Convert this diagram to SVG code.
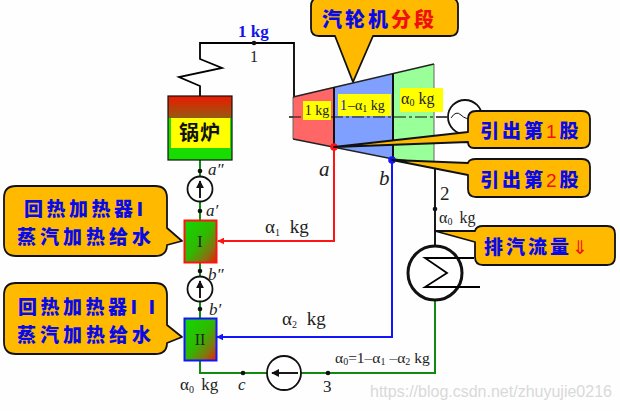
<svg xmlns="http://www.w3.org/2000/svg" width="620" height="411" viewBox="0 0 620 411">
<style>
.pipe{fill:none;stroke:#000;stroke-width:1.8}
.green{fill:none;stroke:#108a10;stroke-width:2}
.red{fill:none;stroke:#ff1414;stroke-width:2}
.blue{fill:none;stroke:#1414ff;stroke-width:2}
.call{fill:#ffba00;stroke:#111;stroke-width:1.8;stroke-linejoin:round}
.cjk{font-family:"Noto Sans CJK SC",sans-serif;font-weight:900;font-size:19px;fill:#0a0ae6}
.r{fill:#f01010}
.t{font-family:"Liberation Serif",serif;font-size:19px;fill:#222}
.i{font-style:italic}
.y{font-family:"Liberation Serif",serif;font-size:14px;fill:#222}
.s{font-size:10px}
.dot{fill:#111}
.pump{fill:#fff;stroke:#111;stroke-width:1.8}
</style>
<defs>
<linearGradient id="boil" x1="0" y1="0" x2="0" y2="1"><stop offset="0" stop-color="#ec1a00"/><stop offset="0.34" stop-color="#965a10"/><stop offset="0.35" stop-color="#22dd00"/><stop offset="1" stop-color="#16dc00"/></linearGradient>
<linearGradient id="heat" x1="0" y1="0" x2="1" y2="1"><stop offset="0" stop-color="#10d800"/><stop offset="0.5" stop-color="#30b800"/><stop offset="0.78" stop-color="#8a7010"/><stop offset="1" stop-color="#ee1a00"/></linearGradient>
<marker id="ar" viewBox="0 0 10 10" refX="9" refY="5" markerWidth="7" markerHeight="7" markerUnits="userSpaceOnUse" orient="auto"><path d="M0 0L10 5L0 10Z" fill="#ff1414"/></marker>
<marker id="ab" viewBox="0 0 10 10" refX="9" refY="5" markerWidth="7" markerHeight="7" markerUnits="userSpaceOnUse" orient="auto"><path d="M0 0L10 5L0 10Z" fill="#1414ff"/></marker>
<marker id="ak" viewBox="0 0 10 10" refX="9" refY="5" markerWidth="8" markerHeight="8" markerUnits="userSpaceOnUse" orient="auto"><path d="M0 0L10 5L0 10Z" fill="#111"/></marker>
</defs>
<rect width="620" height="411" fill="#fefefe"/>
<text x="370" y="397" font-family="Liberation Sans,sans-serif" font-size="16" fill="#d9d9d9">https://blog.csdn.net/zhuyujie0216</text>

<g id="connectors">
<path class="pipe" d="M200 96V86L179 77L222 68L200 59V43H294V97"/>
<path class="green" d="M200 160V220M200 263V318M200 361V373H284M301 373H435V300"/>
<path class="pipe" d="M435 164V246"/>
<path class="red" d="M334 147V241H218" marker-end="url(#ar)"/>
<path class="blue" d="M392 160V337H217" marker-end="url(#ab)"/>
<path d="M289 117H447" fill="none" stroke="#111" stroke-width="1" stroke-dasharray="12 3 3 3"/>
</g>

<g id="turbine">
<path d="M293 97L334 87V147L293 139Z" fill="#ff6666"/>
<path d="M334 87L393 74V159L334 147Z" fill="#80a0ff"/>
<path d="M393 74L434 64V164L393 159Z" fill="#99ff99"/>
<path d="M293 97V139M434 64V164" fill="none" stroke="#666" stroke-width="1"/>
<path d="M293 97L434 64M293 139L393 159L434 164M334 87V147M393 74V159" fill="none" stroke="#222" stroke-width="1.300"/>
<path d="M334 87V147M393 74V159" fill="none" stroke="#111" stroke-width="2"/>
<path d="M289 117H447" fill="none" stroke="#111" stroke-width="1" stroke-dasharray="12 3 3 3"/>
<rect x="303" y="101" width="28" height="19" fill="#ff0"/>
<text class="y" x="317" y="115" text-anchor="middle">1 kg</text>
<rect x="338" y="94" width="53" height="22" fill="#ff0"/>
<text class="y" x="340" y="110"><tspan fill="#1414cc">1</tspan><tspan dx="1">–</tspan>α<tspan class="s" dy="2">1</tspan><tspan dy="-2"> kg</tspan></text>
<rect x="400" y="88" width="43" height="24" fill="#ff0"/>
<text class="y" x="401" y="104" style="font-size:16px">α<tspan class="s" dy="2">0</tspan><tspan dy="-2"> kg</tspan></text>
</g>

<g id="generator"><circle cx="465" cy="117" r="17" fill="#fff" stroke="#111" stroke-width="1.800"/><path d="M451 118Q456 110 461 115T472 118" fill="none" stroke="#111"/></g>

<g id="boiler">
<rect x="168" y="96" width="64" height="64" fill="url(#boil)" stroke="#111" stroke-width="1.200"/>
<rect x="171" y="118" width="59" height="30" fill="#ff0"/>
<text x="200" y="140" text-anchor="middle" font-family="Noto Sans CJK SC,sans-serif" font-size="20" font-weight="700" letter-spacing="1" fill="#111">锅炉</text>
</g>

<g id="heater1"><rect x="184.500" y="220.500" width="32" height="42" fill="url(#heat)" stroke="#ff1414" stroke-width="2"/><text class="t" x="200" y="247" text-anchor="middle" style="font-size:16px">I</text></g>
<g id="heater2"><rect x="184.500" y="318.500" width="32" height="42" fill="url(#heat)" stroke="#1414ff" stroke-width="2"/><text class="t" x="200" y="345" text-anchor="middle" style="font-size:16px">II</text></g>

<g id="pump1"><circle class="pump" cx="200" cy="189" r="12.500"/><path class="pipe" d="M200 198V181" marker-end="url(#ak)"/></g>
<g id="pump2"><circle class="pump" cx="200" cy="289" r="12.500"/><path class="pipe" d="M200 298V281" marker-end="url(#ak)"/></g>
<g id="pump3"><circle class="pump" cx="284" cy="373" r="17"/><path class="pipe" d="M298 373H272" marker-end="url(#ak)"/></g>

<g id="condenser"><circle cx="435" cy="273" r="27" fill="#fff" stroke="#111" stroke-width="3"/><path class="pipe" d="M474 258H425L447 273L425 287H480"/></g>

<g id="points">
<circle class="dot" cx="254" cy="43" r="2.300"/><circle class="dot" cx="200" cy="171" r="2.300"/><circle class="dot" cx="200" cy="211" r="2.300"/><circle class="dot" cx="200" cy="271" r="2.300"/><circle class="dot" cx="200" cy="309" r="2.300"/><circle class="dot" cx="243" cy="373" r="2.300"/><circle class="dot" cx="328" cy="373" r="2.300"/><circle class="dot" cx="435" cy="209" r="2.300"/>
<circle cx="334" cy="147" r="3.800" fill="#ff1414"/><circle cx="392" cy="160" r="3.800" fill="#1414ff"/>
</g>

<g id="callout-stage"><path class="call" d="M319 -2H450Q458 -2 458 6V28Q458 36 450 36H373L353 82L335 36H319Q311 36 311 28V6Q311 -2 319 -2Z"/><text class="cjk" x="322" y="27" letter-spacing="3" style="font-size:20px">汽轮机<tspan class="r">分段</tspan></text></g>
<g id="callout-ext1"><path class="call" d="M476 111H582Q590 111 590 119V140Q590 148 582 148H474Q468 148 468 142L334 147L468 132V119Q468 111 476 111Z"/><text class="cjk" x="480" y="138" letter-spacing="3">引出第<tspan class="r" font-family="Liberation Sans,sans-serif" font-weight="400">1</tspan>股</text></g>
<g id="callout-ext2"><path class="call" d="M476 159H582Q590 159 590 167V189Q590 197 582 197H476Q468 197 468 189V175L392 160L468 163Q469 159 476 159Z"/><text class="cjk" x="480" y="187" letter-spacing="3">引出第<tspan class="r" font-family="Liberation Sans,sans-serif" font-weight="400">2</tspan>股</text></g>
<g id="callout-exhaust"><path class="call" d="M483 226H607Q615 226 615 234V257Q615 265 607 265H483Q475 265 475 257V242L435 231L475 231Q476 226 483 226Z"/><text class="cjk" x="484" y="254" letter-spacing="3">排汽流量<tspan class="r" font-family="DejaVu Sans,sans-serif" font-weight="400">⇓</tspan></text></g>
<g id="callout-heater1"><path class="call" d="M16 186H155Q167 186 167 198V228L182 241L167 245Q167 256 155 256H16Q4 256 4 244V198Q4 186 16 186Z"/><text class="cjk" x="24" y="216" letter-spacing="3.500">回热加热器I</text><text class="cjk" x="17" y="244" letter-spacing="4">蒸汽加热给水</text></g>
<g id="callout-heater2"><path class="call" d="M16 283H155Q167 283 167 295V325L182 337L167 343Q167 354 155 354H16Q4 354 4 342V295Q4 283 16 283Z"/><text class="cjk" x="18" y="314" letter-spacing="3.500">回热加热器I I</text><text class="cjk" x="17" y="342" letter-spacing="4">蒸汽加热给水</text></g>

<g id="labels">
<text x="238" y="37" font-family="Liberation Serif,serif" font-size="17" font-weight="700" fill="#1414e6">1 kg</text>
<text class="t" x="250" y="62" style="font-size:16px">1</text>
<text class="t i" x="319" y="176" style="font-size:21px">a</text>
<text class="t i" x="379" y="185" style="font-size:21px">b</text>
<text class="t" x="440" y="200">2</text>
<text class="t" x="439" y="223" style="font-size:16px">α<tspan class="s" dy="2">0</tspan><tspan dy="-2" dx="3"> kg</tspan></text>
<text class="t i" x="208" y="175" style="font-size:17px">a″</text>
<text class="t i" x="206" y="216" style="font-size:17px">a′</text>
<text class="t i" x="208" y="280" style="font-size:17px">b″</text>
<text class="t i" x="209" y="315" style="font-size:17px">b′</text>
<text class="t" x="265" y="233">α<tspan class="s" dy="3">1</tspan><tspan dy="-3" dx="5"> kg</tspan></text>
<text class="t" x="282" y="325">α<tspan class="s" dy="3">2</tspan><tspan dy="-3" dx="5"> kg</tspan></text>
<text class="t" x="180" y="390" style="font-size:17px">α<tspan class="s" dy="3">0</tspan><tspan dy="-3" dx="3"> kg</tspan></text>
<text class="t i" x="238" y="390" style="font-size:17px">c</text>
<text class="t" x="323" y="392" style="font-size:17px">3</text>
<text class="t" x="335" y="363" style="font-size:15.500px">α<tspan class="s" dy="2">0</tspan><tspan dy="-2">=1–α</tspan><tspan class="s" dy="2">1</tspan><tspan dy="-2"> –α</tspan><tspan class="s" dy="2">2</tspan><tspan dy="-2"> kg</tspan></text>
</g>
</svg>
